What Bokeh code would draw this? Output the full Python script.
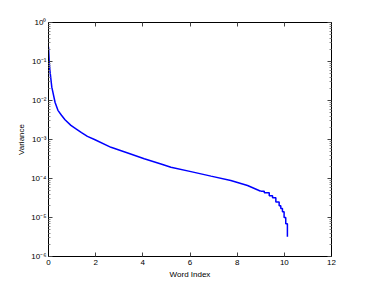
from bokeh.plotting import figure
from bokeh.models import (FixedTicker, CustomJSTickFormatter, LinearAxis, LogAxis,
                          Label, Range1d)
from bokeh.embed import file_html
from bokeh.resources import INLINE

# ---- data ----
word_index = [0, 300, 600, 1400, 2800, 4000, 5500, 7000, 9500, 11500, 14000,
              16500, 19500, 26500, 33600, 40600, 47700, 51900, 60400, 68900,
              77300, 84400, 90000]
variance = [0.24, 0.10, 0.059, 0.022, 0.0089, 0.0056, 0.0042, 0.0032, 0.0023,
            0.0019, 0.0015, 0.0012, 0.0010, 6.3e-4, 4.5e-4, 3.2e-4, 2.35e-4,
            1.95e-4, 1.5e-4, 1.15e-4, 8.9e-5, 6.6e-5, 4.7e-5]
tail_index = [90000, 91500, 93600, 95000, 96400, 97800, 98500, 99200, 99900,
              100600, 101300]
tail_variance = [4.7e-5, 4.3e-5, 3.6e-5, 3.2e-5, 2.5e-5, 2.0e-5, 1.7e-5,
                 1.4e-5, 1.0e-5, 6.9e-6, 3.2e-6]

x_ticks = [0, 20000, 40000, 60000, 80000, 100000, 120000]
y_ticks = [1e-6, 1e-5, 1e-4, 1e-3, 1e-2, 1e-1, 1.0]
y_minor = [k * d for d in [1e-6, 1e-5, 1e-4, 1e-3, 1e-2, 1e-1] for k in range(2, 10)]

FONT = "Liberation Sans"
FS = "8px"

p = figure(width=366, height=289, y_axis_type="log",
           x_range=Range1d(0, 120000), y_range=Range1d(1e-6, 1.0),
           output_backend="svg", toolbar_location=None,
           min_border_left=48, min_border_right=35, min_border_top=22,
           min_border_bottom=33)
p.background_fill_color = "white"
p.border_fill_color = "white"
p.outline_line_color = "black"
p.xgrid.visible = False
p.ygrid.visible = False

p.line(word_index, variance, line_color="#0000ff", line_width=1.5)
p.step(tail_index, tail_variance, mode="after", line_color="#0000ff", line_width=1.5)

xfmt = CustomJSTickFormatter(code="return String(Math.round(tick/1e4));")
yfmt = CustomJSTickFormatter(code="""
const sup = {'0':'\u2070','1':'\u00b9','2':'\u00b2','3':'\u00b3','4':'\u2074',
             '5':'\u2075','6':'\u2076','7':'\u2077','8':'\u2078','9':'\u2079','-':'\u207b'};
const e = Math.round(Math.log10(tick));
return '10' + String(e).split('').map(c => sup[c]).join('');
""")
blank = CustomJSTickFormatter(code="return '';")

def style(ax, labels=True):
    ax.axis_line_color = "black"
    ax.axis_line_width = 1
    ax.major_tick_in = 4
    ax.major_tick_out = 0
    ax.minor_tick_in = 2
    ax.minor_tick_out = 0
    ax.major_tick_line_color = "#444444"
    ax.minor_tick_line_color = "#888888"
    ax.major_label_text_font = FONT
    ax.major_label_text_font_size = FS if labels else "0px"
    ax.major_label_text_color = "black"
    ax.axis_label_text_font = FONT
    ax.axis_label_text_font_size = FS
    ax.axis_label_text_font_style = "normal"
    ax.axis_label_text_color = "black"

# bottom axis
xa = p.xaxis[0]
xa.ticker = FixedTicker(ticks=x_ticks, minor_ticks=[])
xa.formatter = xfmt
style(xa)
xa.axis_label = "Word Index"
xa.major_label_standoff = 3
xa.axis_label_standoff = 2

# left axis
ya = p.yaxis[0]
ya.ticker = FixedTicker(ticks=y_ticks, minor_ticks=y_minor)
ya.formatter = yfmt
style(ya)
ya.axis_label = "Variance"
ya.major_label_standoff = 2
ya.axis_label_standoff = 2

# top / right axes (ticks only)
ta = LinearAxis(ticker=FixedTicker(ticks=x_ticks, minor_ticks=[]), formatter=blank)
style(ta, labels=False)
ta.major_label_standoff = 0
p.add_layout(ta, "above")
ra = LogAxis(ticker=FixedTicker(ticks=y_ticks, minor_ticks=y_minor), formatter=blank)
style(ra, labels=False)
ra.major_label_standoff = 0
p.add_layout(ra, "right")

p.add_layout(Label(x=120000, y=10 ** -6.62, text="x 10\u2074", text_align="right",
                   text_baseline="middle", text_font=FONT, text_font_size=FS,
                   text_color="black"))

open("out.html", "w").write(file_html(p, INLINE))
